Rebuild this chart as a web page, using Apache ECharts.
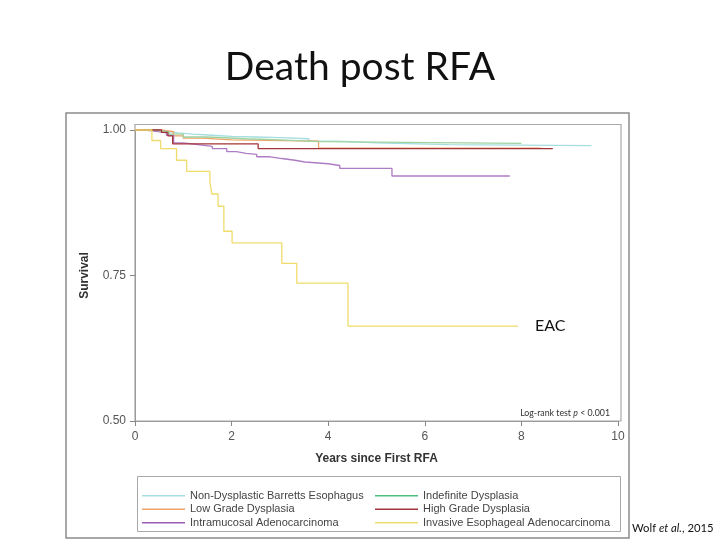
<!DOCTYPE html>
<html><head><meta charset="utf-8">
<script src="https://cdn.jsdelivr.net/npm/echarts@6/dist/echarts.min.js"></script>
<style>html,body{margin:0;padding:0;background:#fff}#c{width:720px;height:540px}</style>
</head><body><div id="c"></div>
<script>
// ---- data (years since first RFA, survival) ----
const seriesNames = ['Non-Dysplastic Barretts Esophagus','Low Grade Dysplasia','Intramucosal Adenocarcinoma','Indefinite Dysplasia','High Grade Dysplasia','Invasive Esophageal Adenocarcinoma'];
const ndbeT = [0, 0.3, 0.6, 0.9, 1.2, 1.6, 2.0, 2.5, 3.0, 3.6, 4.2, 5.0, 6.5, 9.45];
const ndbeS = [1.0, 0.998, 0.995, 0.993, 0.991, 0.989, 0.988, 0.987, 0.985, 0.981, 0.978, 0.975, 0.973, 0.973];
const lgdT = [0, 0.55, 0.8, 1.0, 1.4, 2.0, 3.8, 8.4];
const lgdS = [1.0, 0.997, 0.990, 0.986, 0.983, 0.981, 0.969, 0.969];
const imcT = [0, 0.2, 0.4, 0.65, 0.8, 1.0, 1.3, 1.6, 1.9, 2.1, 2.3, 2.52, 2.8, 3.04, 3.31, 3.52, 4.0, 4.24, 5.32, 7.76];
const imcS = [1.0, 0.998, 0.995, 0.991, 0.978, 0.975, 0.972, 0.968, 0.963, 0.960, 0.958, 0.954, 0.951, 0.948, 0.945, 0.942, 0.939, 0.934, 0.921, 0.921];
const indT = [0, 0.4, 0.7, 1.0, 1.5, 2.3, 3.0, 3.8, 8.0];
const indS = [1.0, 0.997, 0.993, 0.988, 0.985, 0.983, 0.980, 0.977, 0.977];
const hgdT = [0, 0.55, 0.68, 0.78, 2.55, 8.65];
const hgdS = [1.0, 0.996, 0.990, 0.976, 0.968, 0.968];
const ieaT = [0, 0.35, 0.53, 0.86, 1.07, 1.55, 1.59, 1.72, 1.84, 2.01, 3.04, 3.35, 4.41, 7.93];
const ieaS = [1.0, 0.982, 0.968, 0.948, 0.929, 0.911, 0.890, 0.869, 0.826, 0.806, 0.771, 0.737, 0.663, 0.663];
const xTicks = [0, 2, 4, 6, 8, 10];
const yTicks = [0.50, 0.75, 1.00];
const colors = ['#a6dde0', '#f0a468', '#ae7cc4', '#9fd3a0', '#a3353a', '#f0dc6c'];

const pairs = (t, s) => t.map((v, i) => [v, s[i]]);
const allData = [pairs(ndbeT, ndbeS), pairs(lgdT, lgdS), pairs(imcT, imcS), pairs(indT, indS), pairs(hgdT, hgdS), pairs(ieaT, ieaS)];
const legendColors = ['#a6dde0', '#f0a468', '#9a5fb4', '#4fbf80', '#a3353a', '#f0dc6c'];

const chart = echarts.init(document.getElementById('c'), null, {renderer: 'canvas'});
const axisFont = 'Liberation Sans, Arial, sans-serif';
const legendCommon = {
  orient: 'vertical', icon: 'rect', itemWidth: 43, itemHeight: 1.5, itemGap: 0, padding: 0,
  textStyle: {fontFamily: axisFont, fontSize: 11, color: '#444', lineHeight: 13.5}
};
chart.setOption({
  animation: false,
  title: {text: 'Death post RFA', left: 'center', top: 43,
    textStyle: {fontFamily: 'Lato, sans-serif', fontSize: 39, fontWeight: 'normal', color: '#111'}},
  grid: {left: 135, right: 102, top: 130, bottom: 119},
  xAxis: {type: 'value', min: 0, max: 10, interval: 2,
    name: 'Years since First RFA', nameLocation: 'middle', nameGap: 32,
    nameTextStyle: {fontFamily: axisFont, fontSize: 12, fontWeight: 'bold', color: '#333'},
    axisLine: {lineStyle: {color: '#9a9a9a'}},
    axisTick: {length: 5, lineStyle: {color: '#888'}},
    axisLabel: {fontFamily: axisFont, fontSize: 12, color: '#555', margin: 10,
      formatter: v => xTicks.includes(v) ? String(v) : ''},
    splitLine: {show: false}},
  yAxis: {type: 'value', min: 0.5, max: 1.0, interval: 0.25,
    name: 'Survival', nameLocation: 'middle', nameGap: 44,
    nameTextStyle: {fontFamily: axisFont, fontSize: 12, fontWeight: 'bold', color: '#333'},
    axisLine: {show: true, lineStyle: {color: '#9a9a9a'}},
    axisTick: {show: true, length: 5, lineStyle: {color: '#888'}},
    axisLabel: {fontFamily: axisFont, fontSize: 12, color: '#555', margin: 9,
      formatter: v => v.toFixed(2)},
    splitLine: {show: false}},
  legend: [
    Object.assign({left: 142, top: 489, data: seriesNames.slice(0, 3)}, legendCommon),
    Object.assign({left: 375, top: 489, data: seriesNames.slice(3)}, legendCommon)
  ],
  series: seriesNames.map((n, i) => ({
    name: n, type: 'line', step: 'end', symbol: 'none', clip: false,
    data: allData[i], color: legendColors[i],
    lineStyle: {color: colors[i], width: 1.3},
    z: i === 5 ? 3 : 2
  })),
  graphic: [
    {type: 'rect', shape: {x: 66, y: 113, width: 563, height: 425}, style: {fill: null, stroke: '#8c8c8c', lineWidth: 1.5}, silent: true},
    {type: 'rect', shape: {x: 135, y: 124.5, width: 486, height: 296.5}, style: {fill: null, stroke: '#a8a8a8', lineWidth: 1.2}, silent: true},
    {type: 'rect', shape: {x: 137.5, y: 476.5, width: 483, height: 55}, style: {fill: null, stroke: '#a8a8a8', lineWidth: 1}, silent: true},
    {type: 'text', x: 610, y: 413, style: {
      text: '{a|Log-rank test }{i|p}{a| < 0.001}', align: 'right', verticalAlign: 'middle',
      rich: {a: {fontFamily: 'Lato, sans-serif', fontSize: 8.8, fill: '#333'},
             i: {fontFamily: 'Lato, sans-serif', fontSize: 8.8, fontStyle: 'italic', fill: '#333'}}}},
    {type: 'text', x: 535, y: 326, style: {text: 'EAC', fontFamily: 'Lato, sans-serif', fontSize: 16, fill: '#111', verticalAlign: 'middle'}},
    {type: 'text', x: 632, y: 528, style: {
      text: '{a|Wolf }{i|et al.}{a|, 2015}', verticalAlign: 'middle',
      rich: {a: {fontFamily: 'Lato, sans-serif', fontSize: 11.3, fill: '#111'},
             i: {fontFamily: 'Lato, sans-serif', fontSize: 11.3, fontStyle: 'italic', fill: '#111'}}}}
  ]
});
</script></body></html>
